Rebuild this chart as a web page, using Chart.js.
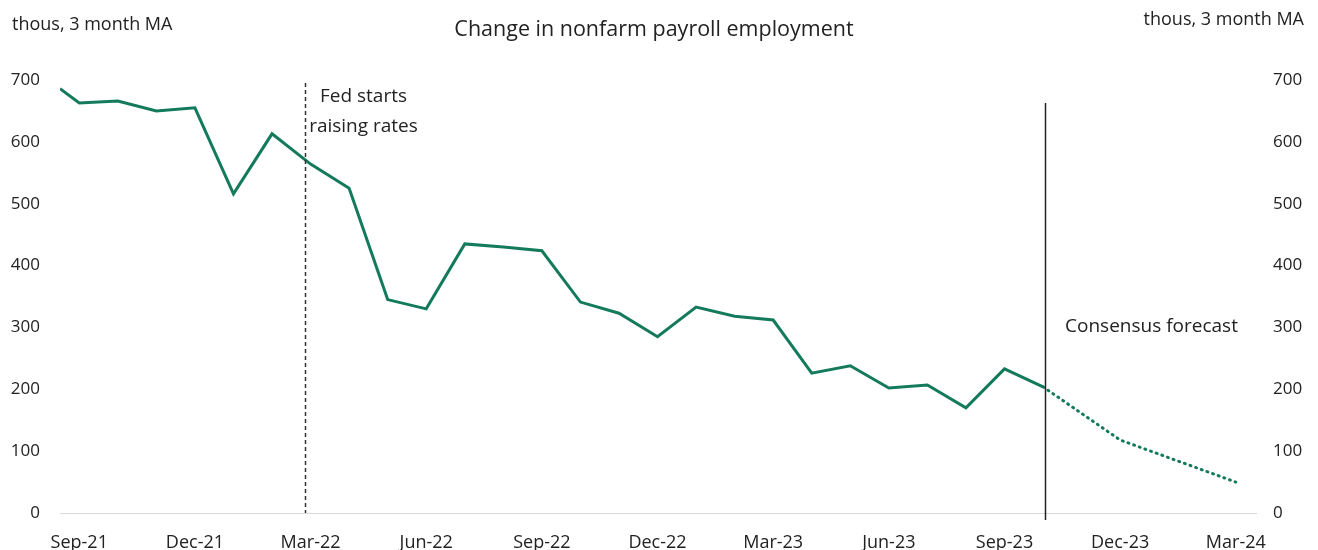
<!DOCTYPE html>
<html>
<head>
<meta charset="utf-8">
<title>Change in nonfarm payroll employment</title>
<script src="https://cdn.jsdelivr.net/npm/chart.js@4/dist/chart.umd.min.js"></script>
<style>
  html, body { margin: 0; padding: 0; background: #fff; }
  #wrap { width: 1318px; height: 550px; position: relative; }
</style>
</head>
<body>
<div id="wrap"><canvas id="payrollChart" width="1318" height="550"></canvas></div>
<script>
// ----------------------------------------
// Data (thousands, 3 month moving average)
// ----------------------------------------

// Month labels, one per index on the x scale (Sep-21 = 0)
const months = [
  'Sep-21', 'Oct-21', 'Nov-21', 'Dec-21', 'Jan-22', 'Feb-22', 'Mar-22', 'Apr-22',
  'May-22', 'Jun-22', 'Jul-22', 'Aug-22', 'Sep-22', 'Oct-22', 'Nov-22', 'Dec-22',
  'Jan-23', 'Feb-23', 'Mar-23', 'Apr-23', 'May-23', 'Jun-23', 'Jul-23', 'Aug-23',
  'Sep-23', 'Oct-23', 'Nov-23', 'Dec-23', 'Jan-24', 'Feb-24', 'Mar-24'
];

// Where the line enters at the left edge (half a month before Sep-21)
const leadInValue = 686;

// Actual readings, Sep-21 .. Oct-23
const actual = [
  663, 666, 650, 655, 516, 613, 564, 525,
  345, 330, 435, 430, 424, 341, 323, 285,
  333, 318, 312, 226, 238, 202, 207, 170,
  233, 204
];

// Consensus forecast points
const forecastMonths = ['Oct-23', 'Dec-23', 'Mar-24'];
const forecast = [204, 118, 50];

// Axis ticks
const xTickMonths = ['Sep-21', 'Dec-21', 'Mar-22', 'Jun-22', 'Sep-22', 'Dec-22',
  'Mar-23', 'Jun-23', 'Sep-23', 'Dec-23', 'Mar-24'];
const yTicks = [0, 100, 200, 300, 400, 500, 600, 700];

// Event markers (month index on the x scale)
const fedHikeAt = 5.86;
const forecastStartAt = months.indexOf('Oct-23');

// ----------------------------------------
// Build series
// ----------------------------------------
const actualPoints = [{ x: -0.5, y: leadInValue }].concat(
  actual.map((v, i) => ({ x: i, y: v }))
);
const forecastPoints = forecastMonths.map((m, i) => ({ x: months.indexOf(m), y: forecast[i] }));

const FONT = "'Open Sans', 'Noto Sans', sans-serif";
const GREEN = '#137a5c';
const TEXT = '#222';

// Vertical markers, headings and notes
const overlayPlugin = {
  id: 'overlay',
  afterDatasetsDraw(chart) {
    const { ctx, chartArea, scales } = chart;
    const x = scales.x, y = scales.y;
    ctx.save();

    // dashed line: Fed starts raising rates
    const fx = Math.round(x.getPixelForValue(fedHikeAt)) + 0.5;
    ctx.strokeStyle = '#333';
    ctx.lineWidth = 1.5;
    ctx.setLineDash([4, 3]);
    ctx.beginPath();
    ctx.moveTo(fx, y.getPixelForValue(695));
    ctx.lineTo(fx, chartArea.bottom);
    ctx.stroke();

    // solid line: start of consensus forecast
    const cx = Math.round(x.getPixelForValue(forecastStartAt)) + 2.5;
    ctx.setLineDash([]);
    ctx.strokeStyle = '#222';
    ctx.beginPath();
    ctx.moveTo(cx, y.getPixelForValue(663));
    ctx.lineTo(cx, chartArea.bottom + 7);
    ctx.stroke();

    ctx.fillStyle = TEXT;
    ctx.textBaseline = 'middle';
    ctx.textAlign = 'center';

    ctx.font = '19px ' + FONT;
    ctx.fillText('Fed starts', fx + 58, 97);
    ctx.fillText('raising rates', fx + 58, 127);
    ctx.fillText('Consensus forecast', cx + 106, 327);

    ctx.font = '21.5px ' + FONT;
    ctx.fillText('Change in nonfarm payroll employment', 654, 30);

    ctx.font = '18px ' + FONT;
    ctx.textAlign = 'left';
    ctx.fillText('thous, 3 month MA', 12, 25);
    ctx.textAlign = 'right';
    ctx.fillText('thous, 3 month MA', 1304, 20);

    ctx.restore();
  }
};

new Chart(document.getElementById('payrollChart'), {
  type: 'line',
  data: {
    datasets: [
      {
        label: 'Actual',
        data: actualPoints,
        borderColor: GREEN,
        borderWidth: 3,
        pointRadius: 0,
        tension: 0
      },
      {
        label: 'Consensus forecast',
        data: forecastPoints,
        borderColor: GREEN,
        borderWidth: 3,
        borderDash: [1, 5],
        borderCapStyle: 'round',
        pointRadius: 0,
        tension: 0
      }
    ]
  },
  options: {
    responsive: false,
    animation: false,
    devicePixelRatio: 1,
    layout: { padding: { left: 0, right: 0, top: 80, bottom: 0 } },
    plugins: {
      legend: { display: false },
      tooltip: { enabled: false }
    },
    scales: {
      x: {
        type: 'linear',
        min: -0.5,
        max: 30.55,
        afterBuildTicks(scale) {
          scale.ticks = xTickMonths.map(m => ({ value: months.indexOf(m) }));
        },
        afterFit(scale) { scale.height = 37; },
        ticks: {
          autoSkip: false,
          maxRotation: 0,
          padding: 19,
          color: TEXT,
          font: { family: FONT, size: 18 },
          callback: v => months[v]
        },
        grid: { display: false, drawTicks: false },
        border: { display: false }
      },
      y: {
        position: 'left',
        min: 0,
        max: 700,
        afterBuildTicks(scale) {
          scale.ticks = yTicks.map(v => ({ value: v }));
        },
        afterFit(scale) { scale.width = 60; },
        ticks: { color: TEXT, font: { family: FONT, size: 17 }, padding: 20 },
        grid: {
          drawTicks: false,
          color: ctx => (ctx.tick && ctx.tick.value === 0 ? '#d9d9d9' : 'rgba(0,0,0,0)')
        },
        border: { display: false }
      },
      y2: {
        position: 'right',
        min: 0,
        max: 700,
        afterBuildTicks(scale) {
          scale.ticks = yTicks.map(v => ({ value: v }));
        },
        afterFit(scale) { scale.width = 61; },
        ticks: { color: TEXT, font: { family: FONT, size: 17 }, padding: 16 },
        grid: { display: false, drawTicks: false },
        border: { display: false }
      }
    }
  },
  plugins: [overlayPlugin]
});
</script>
</body>
</html>
